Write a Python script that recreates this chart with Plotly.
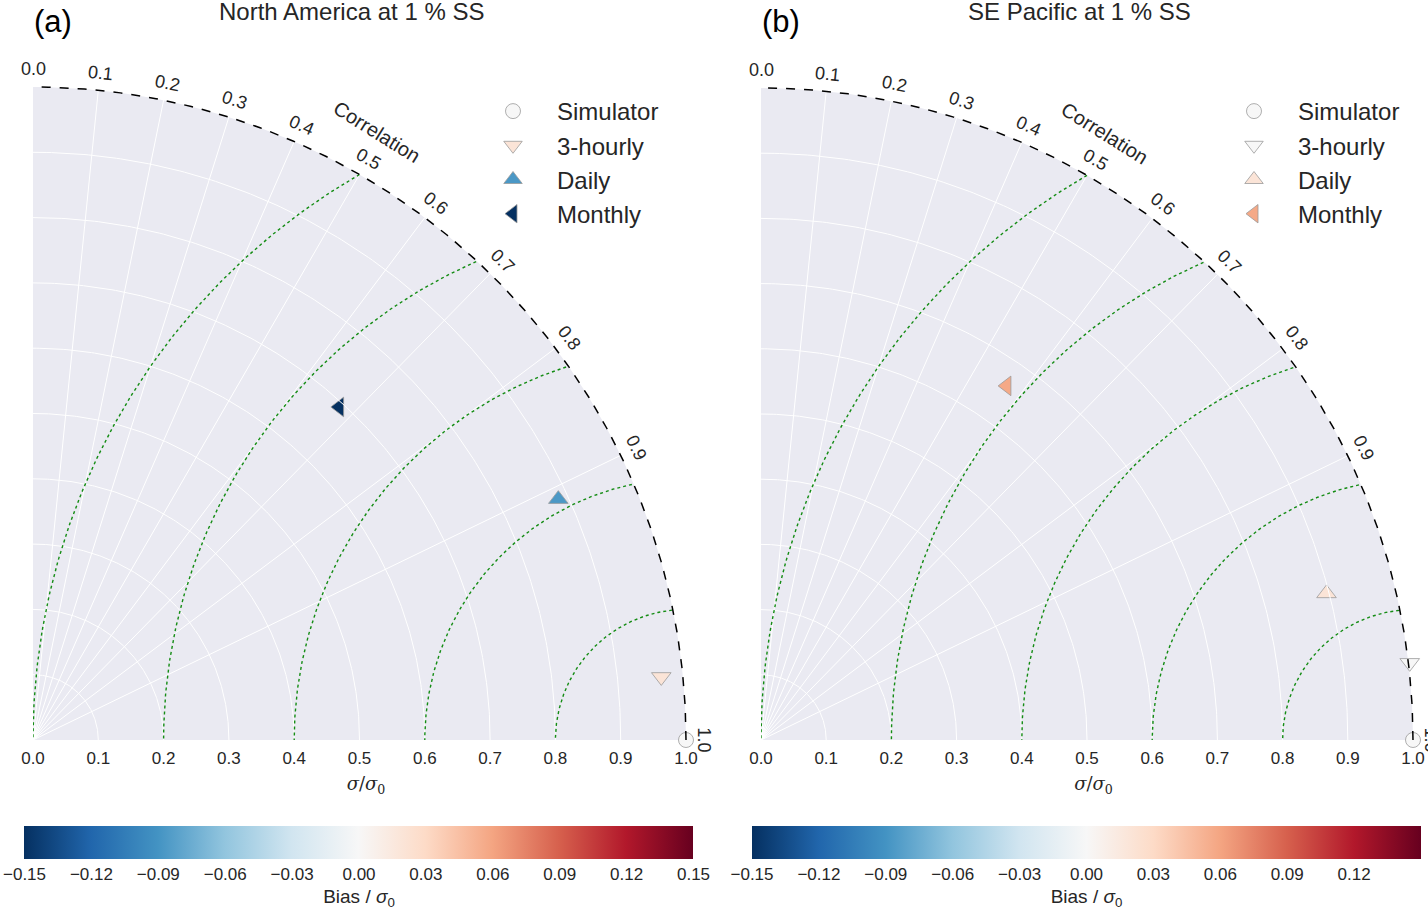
import numpy as np
import plotly.graph_objects as go

# Taylor diagrams: normalised std (sigma/sigma0), correlation, normalised bias
names = ['Simulator', '3-hourly', 'Daily', 'Monthly']
symbols = ['circle', 'triangle-down', 'triangle-up', 'triangle-left']

na_std = [1.0, 0.967, 0.885, 0.693]
na_corr = [1.0, 0.995, 0.909, 0.677]
na_bias = [0.0, 0.02, -0.087, -0.15]

se_std = [1.0, 1.002, 0.896, 0.661]
se_corr = [1.0, 0.993, 0.968, 0.570]
se_bias = [0.0, 0.0, 0.02, 0.058]

corr_ticks = [0.0, 0.1, 0.2, 0.3, 0.4, 0.5, 0.6, 0.7, 0.8, 0.9, 1.0]
std_ticks = [0.0, 0.1, 0.2, 0.3, 0.4, 0.5, 0.6, 0.7, 0.8, 0.9, 1.0]
rms_levels = [0.2, 0.4, 0.6, 0.8, 1.0]
bias_ticks = [-0.15, -0.12, -0.09, -0.06, -0.03, 0.0, 0.03, 0.06, 0.09, 0.12, 0.15]

# matplotlib RdBu_r
rdbu_r = [(5, 48, 97), (33, 102, 172), (67, 147, 195), (146, 197, 222),
          (209, 229, 240), (247, 247, 247), (253, 219, 199), (244, 165, 130),
          (214, 96, 77), (178, 24, 43), (103, 0, 31)]
cscale = [[i / 10, 'rgb(%d,%d,%d)' % c] for i, c in enumerate(rdbu_r)]
BMIN, BMAX = -0.15, 0.15


def bias_color(b):
    f = np.clip((b - BMIN) / (BMAX - BMIN), 0, 1) * 10
    i = min(int(f), 9)
    w = f - i
    c = [(1 - w) * a + w * z for a, z in zip(rdbu_r[i], rdbu_r[i + 1])]
    return 'rgb(%d,%d,%d)' % tuple(round(v) for v in c)


W, H = 1428, 911
TXT = '#262626'
FONT = 'Liberation Sans, Arial, sans-serif'
Y0 = 740      # pixel row of the sigma axis
RMAX = 1.02   # axis range

panels = [
    dict(std=na_std, corr=na_corr, bias=na_bias, title='North America at 1 % SS', tag='(a)',
         x0=33, S=653, leg=436, xa='x', ya='y', ca='coloraxis', lg='legend'),
    dict(std=se_std, corr=se_corr, bias=se_bias, title='SE Pacific at 1 % SS', tag='(b)',
         x0=761, S=652, leg=449, xa='x2', ya='y2', ca='coloraxis2', lg='legend2'),
]

fig = go.Figure()
annotations = []
th = np.linspace(0, np.pi / 2, 200)

for p in panels:
    xa, ya, S = p['xa'], p['ya'], p['S']
    # background quarter disc
    fig.add_trace(go.Scatter(x=np.r_[0, np.cos(th), 0], y=np.r_[0, np.sin(th), 0],
                             fill='toself', fillcolor='#eaeaf2', line=dict(width=0),
                             mode='lines', hoverinfo='skip', showlegend=False,
                             xaxis=xa, yaxis=ya))
    # points
    px_, py_ = [], []
    for name, sym, s, c, b in zip(names, symbols, p['std'], p['corr'], p['bias']):
        t = np.arccos(c)
        px_.append(s * np.cos(t))
        py_.append(s * np.sin(t))
        fig.add_trace(go.Scatter(x=[px_[-1]], y=[py_[-1]], mode='markers',
                                 name=name, legend=p['lg'], cliponaxis=False,
                                 marker=dict(symbol=sym, size=17 if sym != 'circle' else 15,
                                             color=bias_color(b),
                                             line=dict(color='#9a9a9a', width=0.8)),
                                 xaxis=xa, yaxis=ya))
    # transparent copy carrying the bias colour scale
    fig.add_trace(go.Scatter(x=px_, y=py_, mode='markers', showlegend=False, hoverinfo='skip',
                             marker=dict(color=p['bias'], coloraxis=p['ca'], opacity=0),
                             xaxis=xa, yaxis=ya))
    # std arcs
    gx, gy = [], []
    for r in std_ticks[1:-1]:
        gx += list(r * np.cos(th)) + [None]
        gy += list(r * np.sin(th)) + [None]
    # correlation spokes
    for c in corr_ticks[1:-1]:
        t = np.arccos(c)
        gx += [0, np.cos(t), None]
        gy += [0, np.sin(t), None]
    fig.add_trace(go.Scatter(x=gx, y=gy, mode='lines', line=dict(color='white', width=1),
                             hoverinfo='skip', showlegend=False, xaxis=xa, yaxis=ya))
    # centred RMS arcs
    rx, ry = [], []
    phi = np.linspace(0, np.pi, 400)
    for R in rms_levels:
        x = 1 + R * np.cos(phi)
        y = R * np.sin(phi)
        m = x ** 2 + y ** 2 <= 1.0001
        rx += list(x[m]) + [None]
        ry += list(y[m]) + [None]
    fig.add_trace(go.Scatter(x=rx, y=ry, mode='lines',
                             line=dict(color='rgb(20,140,20)', width=1.4, dash='dot'),
                             hoverinfo='skip', showlegend=False, xaxis=xa, yaxis=ya))
    # outer boundary
    fig.add_trace(go.Scatter(x=np.cos(th), y=np.sin(th), mode='lines',
                             line=dict(color='black', width=1.5, dash='dash'),
                             hoverinfo='skip', showlegend=False, cliponaxis=False,
                             xaxis=xa, yaxis=ya))
    # correlation labels, anchored on the arc and pushed outwards in pixels
    for c in corr_ticks:
        t = np.arccos(c)
        annotations.append(dict(x=np.cos(t), y=np.sin(t), xref=xa, yref=ya,
                                xshift=0.027 * S * np.cos(t), yshift=0.027 * S * np.sin(t),
                                text='%.1f' % c, showarrow=False,
                                textangle=90 - np.degrees(t),
                                font=dict(size=18, color=TXT, family=FONT)))
    t = np.radians(60.5)
    annotations.append(dict(x=np.cos(t), y=np.sin(t), xref=xa, yref=ya,
                            xshift=0.07 * S * np.cos(t), yshift=0.07 * S * np.sin(t),
                            text='Correlation', showarrow=False,
                            textangle=32, font=dict(size=20, color=TXT, family=FONT)))
    annotations.append(dict(x=(p['x0'] + S / 2 - 8) / W, y=1 - 11 / H, xref='paper', yref='paper',
                            xanchor='center', yanchor='middle', text=p['title'], showarrow=False,
                            font=dict(size=24, color=TXT, family=FONT)))
    annotations.append(dict(x=(p['x0'] + 20) / W, y=1 - 21 / H, xref='paper', yref='paper',
                            xanchor='center', yanchor='middle', text=p['tag'], showarrow=False,
                            font=dict(size=31, color='black', family=FONT)))

axis_common = dict(range=[0, RMAX], showgrid=False, zeroline=False, showline=False, fixedrange=True)

for p, key in zip(panels, ['', '2']):
    S = p['S']
    fig.update_layout(**{
        'xaxis' + key: dict(axis_common, domain=[p['x0'] / W, (p['x0'] + RMAX * S) / W],
                            anchor='y' + key,
                            tickvals=std_ticks, tickformat='.1f', ticks='', ticklabelstandoff=6,
                            tickfont=dict(size=17, color=TXT, family=FONT),
                            title=dict(text='<i>σ</i>/<i>σ</i><sub>0</sub>', standoff=10,
                                       font=dict(size=18, color=TXT, family='DejaVu Serif'))),
        'yaxis' + key: dict(axis_common, domain=[1 - Y0 / H, 1 - (Y0 - RMAX * S) / H],
                            anchor='x' + key, showticklabels=False),
        'coloraxis' + key: dict(colorscale=cscale, cmin=BMIN, cmax=BMAX,
                                colorbar=dict(orientation='h', x=(p['x0'] + S / 2 - 0.5) / W,
                                              xanchor='center', y=1 - 826 / H, yanchor='top',
                                              len=669, lenmode='pixels', thickness=33,
                                              xpad=0, ypad=0, outlinewidth=0,
                                              tickvals=bias_ticks, tickformat='.2f', ticks='',
                                              tickfont=dict(size=17, color=TXT, family=FONT),
                                              title=dict(text='Bias / <i>σ</i><sub>0</sub>', side='bottom',
                                                         font=dict(size=19, color=TXT, family=FONT)))),
        ('legend' + key) if key else 'legend': dict(
            x=(p['x0'] + p['leg']) / W, y=1 - 89 / H, xanchor='left', yanchor='top',
            bgcolor='rgba(0,0,0,0)', font=dict(size=24, color=TXT, family=FONT),
            itemwidth=78),
    })

fig.update_layout(width=W, height=H, margin=dict(l=0, r=0, t=0, b=0, autoexpand=False),
                  paper_bgcolor='white', plot_bgcolor='rgba(0,0,0,0)',
                  annotations=annotations, showlegend=True)

# drop the page's default body margin so the figure sits at the window corner
fig.write_html('out.html', config={'displayModeBar': False},
               post_script="document.body.style.margin='0px';")
